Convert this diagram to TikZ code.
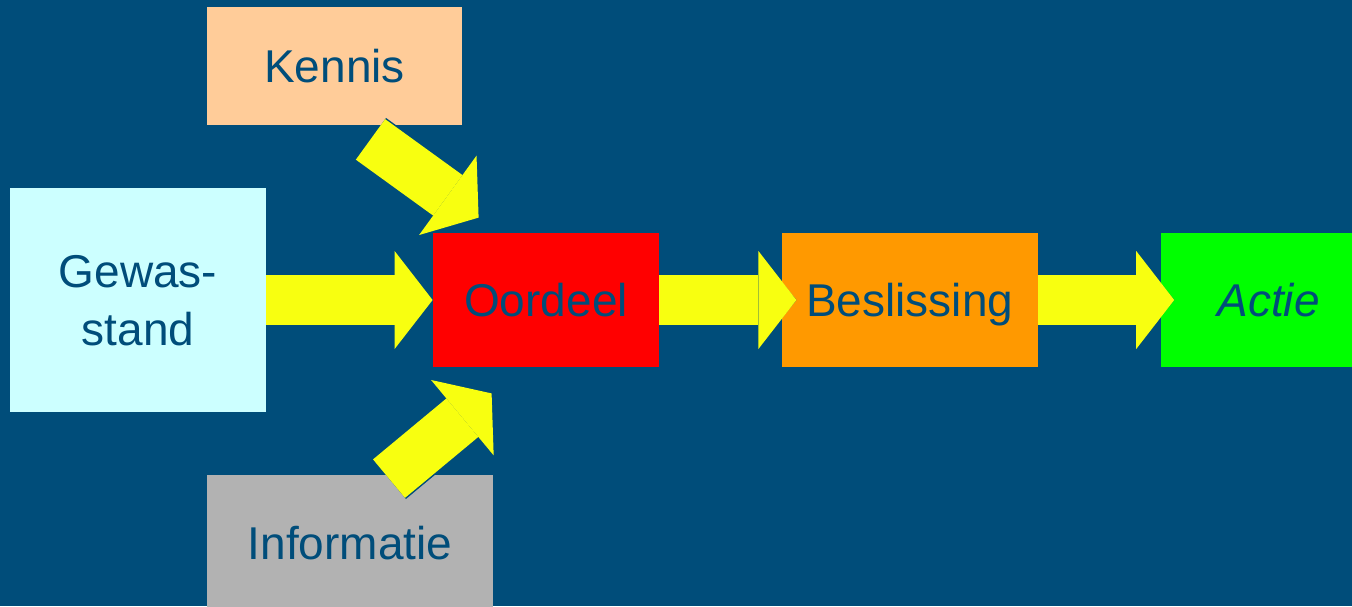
\documentclass[tikz,border=0pt]{standalone}
\usepackage{fontspec}
\setmainfont{Liberation Sans}
\usetikzlibrary{positioning,arrows.meta}

\definecolor{bgblue}{RGB}{0,77,122}
\definecolor{arryellow}{RGB}{248,255,16}
\definecolor{kennisfill}{RGB}{255,204,153}
\definecolor{gewasfill}{RGB}{204,255,255}
\definecolor{oordeelfill}{RGB}{255,0,0}
\definecolor{beslisfill}{RGB}{255,153,0}
\definecolor{actiefill}{RGB}{0,255,0}
\definecolor{infofill}{RGB}{178,178,178}

\begin{document}
\begin{tikzpicture}[
  x=0.5pt, y=-0.5pt,
  node distance=61pt,
  box/.style={inner sep=0pt,minimum height=67pt,text depth=0pt,font=\fontsize{23}{29}\selectfont,text=bgblue,align=center},
  arr/.style={preaction={draw=bgblue,line width=26.5pt,-{Triangle[width=51pt,length=20.5pt,line width=0pt]}},
              draw=arryellow,line width=25pt,-{Triangle[width=49pt,length=19pt,line width=0pt]}},
]
\clip (0,0) rectangle (1352,606);
\fill[bgblue] (0,0) rectangle (1352,606);

\node[box, fill=kennisfill, minimum width=127.5pt, minimum height=59pt] (kennis) at (334.5,66) {Kennis};
\node[box, fill=gewasfill,  minimum width=128pt, minimum height=112pt]  (gewas)  at (138,300)  {Gewas-\\stand};
\node[box, fill=oordeelfill, minimum width=113pt]                       (oordeel) at (546,300) {Oordeel};
\node[box, fill=beslisfill,  minimum width=128pt, right=of oordeel]     (beslis) {Beslissing};
\node[box, fill=actiefill,   minimum width=108pt, right=of beslis]      (actie)  {\itshape Actie};
\node[box, fill=infofill,   minimum width=143pt, minimum height=68pt]   (info)   at (350,543)  {Informatie};

\draw[arr] (gewas) -- (oordeel);
\draw[arr] (oordeel) -- ([xshift=7.5pt]beslis.west);
\draw[arr] (beslis) -- ([xshift=7pt]actie.west);
\draw[arr] ([shift={(36,14)}]kennis.south) -- ([shift={(46,-15)}]oordeel.north west);
\draw[arr] ([shift={(39,4)}]info.north) -- ([shift={(59,26)}]oordeel.south west);
\end{tikzpicture}
\end{document}
